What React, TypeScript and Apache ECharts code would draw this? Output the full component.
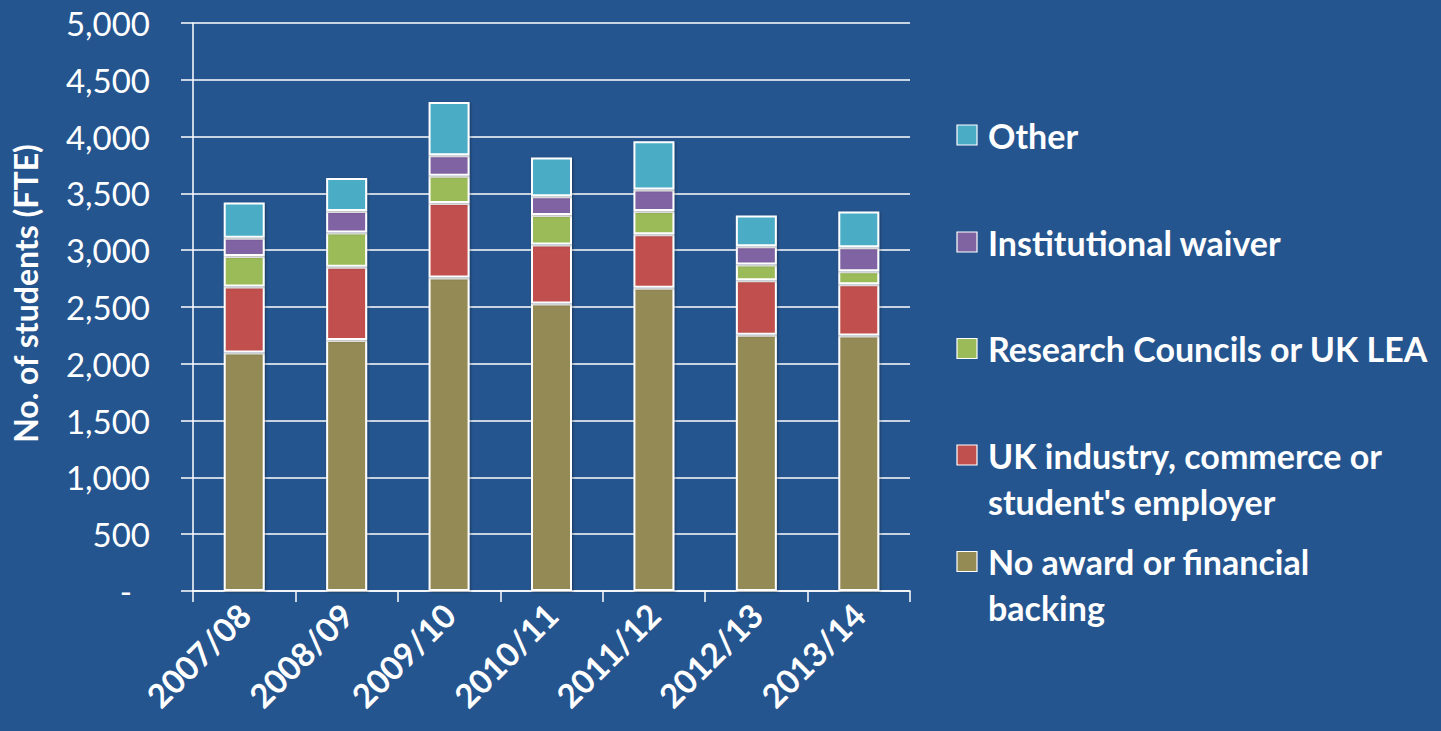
import { useEffect, useRef } from "react";
import * as echarts from "echarts";

const categories = ["2007/08", "2008/09", "2009/10", "2010/11", "2011/12", "2012/13", "2013/14"];
const seriesNames = [
  "No award or financial backing",
  "UK industry, commerce or student's employer",
  "Research Councils or UK LEA",
  "Institutional waiver",
  "Other",
];
const noAward = [2100, 2210, 2760, 2530, 2670, 2255, 2250];
const ukIndustry = [580, 645, 655, 520, 470, 480, 450];
const research = [270, 300, 240, 260, 205, 140, 115];
const waiver = [160, 190, 180, 165, 190, 160, 210];
const other = [310, 290, 470, 340, 425, 270, 315];
const seriesValues = [noAward, ukIndustry, research, waiver, other];
const colors = ["#948A54", "#C0504D", "#9BBB59", "#8064A2", "#4BACC6"];
const legendLines = [
  ["No award or financial", "backing"],
  ["UK industry, commerce or", "student's employer"],
  ["Research Councils or UK LEA"],
  ["Institutional waiver"],
  ["Other"],
];
const yAxisName = "No. of students (FTE)";
const yMin = 0;
const yMax = 5000;
const yStep = 500;

const BG = "#25558F";
const FONT = "Lato";

export default function App() {
  const ref = useRef<HTMLDivElement>(null);
  useEffect(() => {
    const chart = echarts.init(ref.current!, null, { renderer: "svg" });
    const legendY = [561.5, 455, 348.5, 242, 135];
    const lineGap = 46;
    const graphics: any[] = [];
    seriesNames.forEach((_, i) => {
      const cy = legendY[i];
      graphics.push({
        type: "rect",
        shape: { x: 957, y: cy - 10, width: 20, height: 20 },
        style: { fill: colors[i], stroke: "#ffffff", lineWidth: 1.2 },
      });
      legendLines[i].forEach((line, j) => {
        graphics.push({
          type: "text",
          x: 988,
          y: cy + j * lineGap,
          style: {
            text: line,
            fill: "#ffffff",
            font: `bold 34px ${FONT}`,
            verticalAlign: "middle",
          },
        });
      });
    });

    chart.setOption({
      animation: false,
      backgroundColor: BG,
      textStyle: { fontFamily: FONT },
      grid: { left: 193, right: 531, top: 23, bottom: 140, containLabel: false },
      xAxis: {
        type: "category",
        data: categories,
        boundaryGap: true,
        axisLine: { show: true, lineStyle: { color: "#ffffff", width: 1.5 } },
        axisTick: { show: true, length: 11, alignWithLabel: false, lineStyle: { color: "#ffffff", width: 1.5 } },
        axisLabel: {
          interval: 0,
          rotate: 45,
          margin: 18,
          color: "#ffffff",
          fontFamily: FONT,
          fontWeight: "bold",
          fontSize: 33,
        },
      },
      yAxis: {
        type: "value",
        min: yMin,
        max: yMax,
        interval: yStep,
        name: yAxisName,
        nameLocation: "middle",
        nameRotate: 90,
        nameGap: 152,
        nameTextStyle: {
          color: "#ffffff",
          fontFamily: FONT,
          fontWeight: "bold",
          fontSize: 32,
          padding: [0, 0, 0, 27],
        },
        axisLine: { show: true, lineStyle: { color: "#ffffff", width: 1.5 } },
        axisTick: { show: true, length: 12, lineStyle: { color: "#ffffff", width: 1.5 } },
        splitLine: { show: true, lineStyle: { color: "#ffffff", width: 1.5 } },
        axisLabel: {
          margin: 43,
          color: "#ffffff",
          fontFamily: FONT,
          fontSize: 33,
          formatter: (v: number) => (v === 0 ? "{z|-}" : v.toLocaleString("en-US")),
          rich: { z: { color: "#ffffff", fontFamily: FONT, fontSize: 33, padding: [0, 18, 0, 0] } },
        },
      },
      series: seriesNames.map((name, i) => ({
        name,
        type: "bar",
        stack: "total",
        barWidth: 41,
        data: seriesValues[i],
        itemStyle: {
          color: colors[i],
          borderColor: "#ffffff",
          borderWidth: 2,
          shadowBlur: 3,
          shadowColor: "rgba(0,0,0,0.35)",
          shadowOffsetX: 1,
          shadowOffsetY: 1,
        },
      })),
      graphic: graphics,
    });
    return () => chart.dispose();
  }, []);
  return (
    <div
      ref={ref}
      style={{ position: "fixed", left: 0, top: 0, width: 1441, height: 731, background: BG }}
    />
  );
}
